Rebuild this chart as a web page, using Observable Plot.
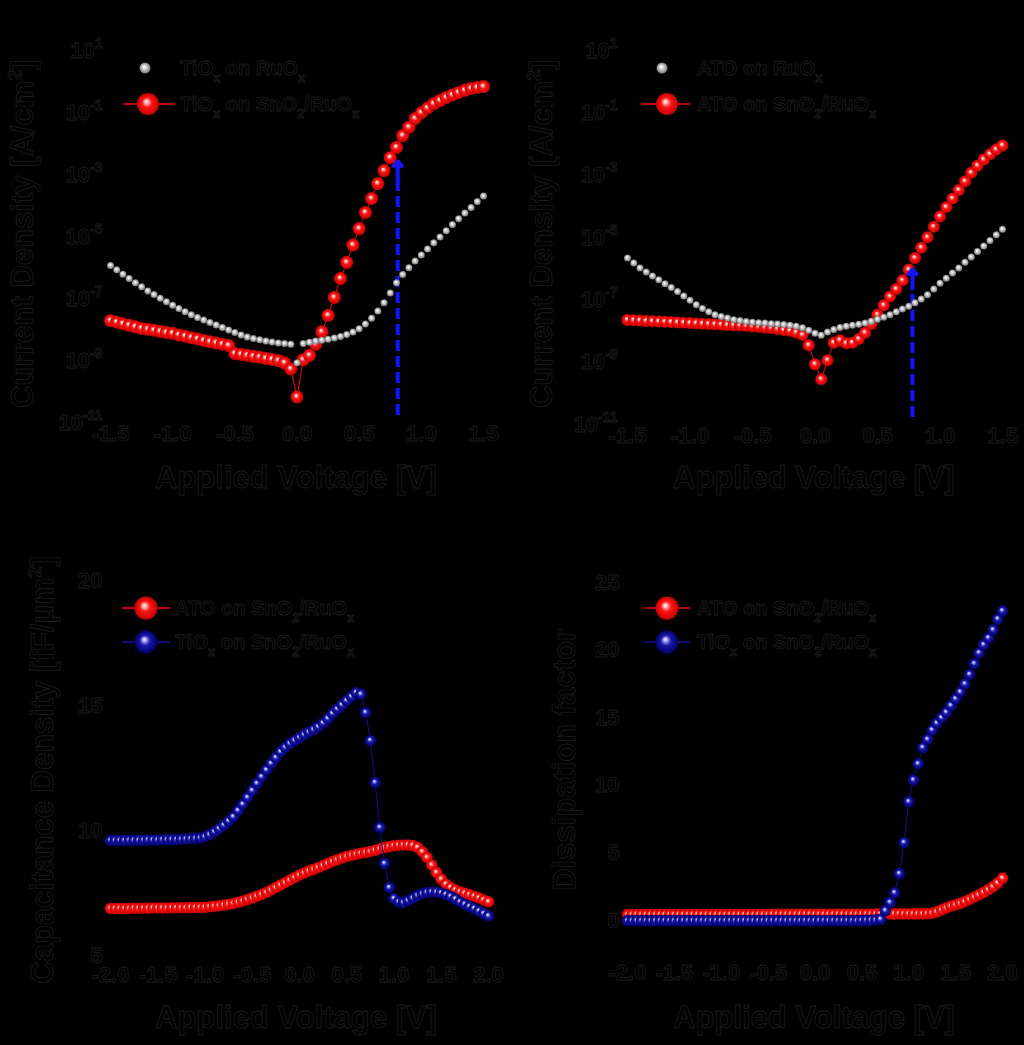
<!DOCTYPE html>
<html>
<head>
<meta charset="utf-8">
<script src="https://cdn.jsdelivr.net/npm/d3@7"></script>
<script src="https://cdn.jsdelivr.net/npm/@observablehq/plot@0.6"></script>
<style>
html, body { margin: 0; padding: 0; background: #000; }
#root { position: relative; width: 1024px; height: 1045px; background: #000; overflow: hidden; }
#root svg text { fill: #000; stroke: #1b1b1b; stroke-width: 0.9px; font-family: "Liberation Sans", Arial, sans-serif; font-weight: bold; }
</style>
</head>
<body>
<div id="root"></div>
<script>
// ---------------- data ----------------
const vTop = [-1.5,-1.45,-1.4,-1.35,-1.3,-1.25,-1.2,-1.15,-1.1,-1.05,-1.0,-0.95,-0.9,-0.85,-0.8,-0.75,-0.7,-0.65,-0.6,-0.55,-0.5,-0.45,-0.4,-0.35,-0.3,-0.25,-0.2,-0.15,-0.1,-0.05,0.0,0.05,0.1,0.15,0.2,0.25,0.3,0.35,0.4,0.45,0.5,0.55,0.6,0.65,0.7,0.75,0.8,0.85,0.9,0.95,1.0,1.05,1.1,1.15,1.2,1.25,1.3,1.35,1.4,1.45,1.5];

// log10 of current density [A/cm^2]
const logJ_TiOx_RuOx = [-6.16,-6.30,-6.44,-6.58,-6.72,-6.85,-6.98,-7.10,-7.22,-7.33,-7.44,-7.55,-7.65,-7.75,-7.84,-7.92,-8.00,-8.08,-8.16,-8.24,-8.32,-8.40,-8.47,-8.52,-8.56,-8.60,-8.63,-8.66,-8.68,-8.70,-9.30,-8.68,-8.64,-8.60,-8.57,-8.54,-8.50,-8.45,-8.39,-8.31,-8.20,-8.05,-7.86,-7.63,-7.36,-7.05,-6.72,-6.45,-6.23,-6.02,-5.82,-5.63,-5.43,-5.24,-5.04,-4.84,-4.65,-4.47,-4.29,-4.10,-3.92];
const logJ_TiOx_SnO2 = [-7.94,-7.99,-8.04,-8.09,-8.14,-8.19,-8.22,-8.25,-8.29,-8.32,-8.35,-8.40,-8.44,-8.49,-8.53,-8.58,-8.62,-8.66,-8.70,-8.74,-9.00,-9.03,-9.06,-9.09,-9.12,-9.16,-9.19,-9.23,-9.30,-9.50,-10.40,-9.20,-9.06,-8.70,-8.30,-7.77,-7.19,-6.58,-6.06,-5.50,-4.97,-4.45,-4.00,-3.52,-3.10,-2.68,-2.35,-1.97,-1.70,-1.42,-1.23,-1.08,-0.94,-0.84,-0.74,-0.66,-0.58,-0.51,-0.45,-0.42,-0.39];
const logJ_ATO_RuOx = [-5.88,-6.04,-6.20,-6.33,-6.46,-6.58,-6.71,-6.83,-6.96,-7.10,-7.24,-7.38,-7.50,-7.61,-7.70,-7.76,-7.81,-7.86,-7.89,-7.92,-7.94,-7.96,-7.97,-7.99,-8.00,-8.02,-8.04,-8.07,-8.12,-8.20,-8.30,-8.36,-8.26,-8.18,-8.11,-8.07,-8.04,-8.01,-7.97,-7.91,-7.85,-7.78,-7.70,-7.61,-7.52,-7.43,-7.32,-7.20,-7.06,-6.88,-6.69,-6.53,-6.36,-6.20,-6.02,-5.85,-5.67,-5.50,-5.32,-5.14,-4.96];
const logJ_ATO_SnO2 = [-7.87,-7.88,-7.89,-7.90,-7.91,-7.92,-7.93,-7.94,-7.95,-7.96,-7.97,-7.98,-7.99,-8.00,-8.01,-8.02,-8.03,-8.04,-8.05,-8.06,-8.08,-8.09,-8.11,-8.13,-8.16,-8.19,-8.22,-8.27,-8.35,-8.68,-9.29,-9.77,-9.16,-8.60,-8.52,-8.62,-8.60,-8.48,-8.28,-8.00,-7.70,-7.40,-7.12,-6.88,-6.60,-6.25,-5.88,-5.55,-5.22,-4.88,-4.55,-4.25,-3.97,-3.70,-3.42,-3.15,-2.92,-2.72,-2.55,-2.40,-2.27];

const vBot = [-2.0,-1.95,-1.9,-1.85,-1.8,-1.75,-1.7,-1.65,-1.6,-1.55,-1.5,-1.45,-1.4,-1.35,-1.3,-1.25,-1.2,-1.15,-1.1,-1.05,-1.0,-0.95,-0.9,-0.85,-0.8,-0.75,-0.7,-0.65,-0.6,-0.55,-0.5,-0.45,-0.4,-0.35,-0.3,-0.25,-0.2,-0.15,-0.1,-0.05,0.0,0.05,0.1,0.15,0.2,0.25,0.3,0.35,0.4,0.45,0.5,0.55,0.6,0.65,0.7,0.75,0.8,0.85,0.9,0.95,1.0,1.05,1.1,1.15,1.2,1.25,1.3,1.35,1.4,1.45,1.5,1.55,1.6,1.65,1.7,1.75,1.8,1.85,1.9,1.95,2.0];

// capacitance density [fF/um^2]
const cap_ATO = [6.88,6.88,6.88,6.88,6.88,6.89,6.89,6.89,6.89,6.90,6.90,6.90,6.90,6.91,6.91,6.91,6.91,6.92,6.92,6.92,6.93,6.95,6.97,6.99,7.02,7.05,7.08,7.13,7.18,7.24,7.30,7.37,7.44,7.52,7.62,7.72,7.82,7.92,8.02,8.12,8.22,8.30,8.38,8.45,8.52,8.60,8.68,8.76,8.83,8.90,8.96,9.01,9.05,9.09,9.12,9.16,9.21,9.27,9.32,9.36,9.39,9.41,9.42,9.42,9.40,9.32,9.15,8.92,8.62,8.32,8.05,7.85,7.72,7.62,7.55,7.49,7.43,7.37,7.30,7.22,7.15];
const cap_TiOx = [9.60,9.60,9.60,9.60,9.61,9.61,9.61,9.61,9.62,9.62,9.62,9.63,9.63,9.64,9.64,9.65,9.66,9.67,9.68,9.70,9.75,9.84,9.95,10.08,10.22,10.38,10.55,10.80,11.05,11.32,11.60,11.88,12.15,12.42,12.68,12.92,13.15,13.33,13.48,13.60,13.72,13.83,13.94,14.04,14.15,14.30,14.48,14.68,14.86,15.03,15.20,15.36,15.52,15.45,14.72,13.60,11.92,10.12,8.68,7.72,7.28,7.14,7.12,7.20,7.30,7.40,7.47,7.52,7.54,7.53,7.50,7.44,7.36,7.26,7.14,7.05,6.96,6.88,6.78,6.68,6.58];

// dissipation factor
const df_ATO = [0.45,0.45,0.45,0.45,0.45,0.45,0.45,0.45,0.45,0.45,0.45,0.45,0.45,0.45,0.45,0.45,0.45,0.45,0.45,0.45,0.45,0.45,0.45,0.45,0.45,0.45,0.45,0.45,0.45,0.45,0.45,0.48,0.48,0.48,0.48,0.48,0.48,0.48,0.48,0.48,0.48,0.48,0.48,0.48,0.48,0.48,0.48,0.48,0.48,0.48,0.48,0.48,0.48,0.50,0.50,0.50,0.50,0.50,0.50,0.50,0.50,0.50,0.50,0.50,0.52,0.56,0.65,0.80,0.95,1.08,1.18,1.28,1.42,1.58,1.75,1.92,2.10,2.30,2.52,2.80,3.15];
const df_TiOx = [0,0,0,0,0,0,0,0,0,0,0,0,0,0,0,0,0,0,0,0,0,0,0,0,0,0,0,0,0,0,0,0,0,0,0,0,0,0,0,0,0,0,0,0,0,0,0,0,0,0,0.01,0.02,0.03,0.05,0.10,0.75,1.35,2.07,3.48,5.78,8.80,10.40,11.60,12.80,13.40,14.10,14.60,15.00,15.40,15.90,16.40,16.90,17.50,18.20,19.00,19.80,20.40,20.90,21.50,22.30,22.90];

// arrows: voltage, log10 of tip
const arrowV_TiOx = [0.81];
const arrowTipLog_TiOx = [-2.8];
const arrowV_ATO = [0.78];
const arrowTipLog_ATO = [-6.25];

// ticks
const xTicksTop = [-1.5, -1.0, -0.5, 0.0, 0.5, 1.0, 1.5];
const xTicksBot = [-2.0, -1.5, -1.0, -0.5, 0.0, 0.5, 1.0, 1.5, 2.0];
const yTicksLog = [1e1, 1e-1, 1e-3, 1e-5, 1e-7, 1e-9, 1e-11];
const yTicksCap = [5, 10, 15, 20];
const yTicksDF = [0, 5, 10, 15, 20, 25];

// texts
const xLabel = "Applied Voltage [V]";
const yLabelJ = ["Current Density [A/cm", "^2", "]"];
const yLabelC = ["Capacitance Density [fF/μm", "^2", "]"];
const yLabelD = ["Dissipation factor"];
const legTL = [["TiO", "_x", " on RuO", "_x"], ["TiO", "_x", " on SnO", "_2", "/RuO", "_x"]];
const legTR = [["ATO on RuO", "_x"], ["ATO on SnO", "_2", "/RuO", "_x"]];
const legBot = [["ATO on SnO", "_2", "/RuO", "_x"], ["TiO", "_x", " on SnO", "_2", "/RuO", "_x"]];

// ---------------- tables ----------------
const toLog = (v, l) => v.map((x, i) => ({v: x, y: Math.pow(10, l[i])}));
const toLin = (v, l) => v.map((x, i) => ({v: x, y: l[i]}));
const tTiRu = toLog(vTop, logJ_TiOx_RuOx);
const tTiSn = toLog(vTop, logJ_TiOx_SnO2);
const tAtoRu = toLog(vTop, logJ_ATO_RuOx);
const tAtoSn = toLog(vTop, logJ_ATO_SnO2);
const tCapAto = toLin(vBot, cap_ATO);
const tCapTi = toLin(vBot, cap_TiOx);
const tDfAto = toLin(vBot, df_ATO);
const tDfTi = toLin(vBot, df_TiOx);
const arrowTbl = (v, tip) => v.map((x, i) => ({v: x, y1: 1e-11, y2: Math.pow(10, tip[i]), yh: Math.pow(10, tip[i] - 0.6)}));
const arrTi = arrowTbl(arrowV_TiOx, arrowTipLog_TiOx);
const arrAto = arrowTbl(arrowV_ATO, arrowTipLog_ATO);

// ---------------- gradients ----------------
const root = document.getElementById("root");
const defsSvg = d3.select(root).append("svg").attr("width", 0).attr("height", 0)
  .style("position", "absolute").style("left", "0").style("top", "0");
const defs = defsSvg.append("defs");
function grad(id, stops) {
  const g = defs.append("radialGradient").attr("id", id)
    .attr("cx", "0.5").attr("cy", "0.5").attr("r", "0.5").attr("fx", "0.42").attr("fy", "0.38");
  stops.forEach(([o, c]) => g.append("stop").attr("offset", o).attr("stop-color", c));
}
grad("ballRed", [[0, "#ffffff"], [0.16, "#ffb8b8"], [0.45, "#ff1414"], [1, "#c40000"]]);
grad("ballBlue", [[0, "#ffffff"], [0.16, "#a8a8ff"], [0.45, "#1818a6"], [1, "#00006a"]]);
grad("ballGray", [[0, "#ffffff"], [0.3, "#e2e2e2"], [1, "#777777"]]);

const RED = "#ff0000", BLUE = "#10109a", ARROW = "#1414ff";

// ---------------- helpers ----------------
// base: vertical offset of the baseline (px) applied through the first tspan's dy
function rich(textSel, parts, size, subSize, subShift, supShift, base) {
  let cur = -(base || 0);
  parts.forEach(p => {
    let s = p, target = 0, small = false;
    if (p.startsWith("_")) { s = p.slice(1); target = subShift; small = true; }
    else if (p.startsWith("^")) { s = p.slice(1); target = supShift; small = true; }
    const ts = textSel.append("tspan").text(s).attr("dy", target - cur);
    ts.style("font-size", (small ? subSize : size) + "px");
    cur = target;
  });
}

function panel(cfg) {
  const svg = Plot.plot({
    width: 512, height: cfg.height,
    marginLeft: cfg.ml, marginRight: cfg.mr, marginTop: cfg.mt, marginBottom: cfg.mb,
    style: {background: "transparent", fontFamily: "'Liberation Sans', Arial, sans-serif",
            fontSize: "22px", fontWeight: "bold", color: "#000", overflow: "visible"},
    x: {domain: cfg.xDomain},
    y: cfg.y,
    marks: [
      Plot.axisX({ticks: cfg.xTicks, tickFormat: d => d.toFixed(1), tickSize: 0, tickPadding: cfg.xPad, label: null}),
      Plot.axisY({ticks: cfg.yTicks, tickFormat: cfg.yFormat, tickSize: 0, tickPadding: cfg.yPad, label: null}),
      ...cfg.marks
    ]
  });
  svg.style.position = "absolute";
  svg.style.left = cfg.left + "px";
  svg.style.top = cfg.top + "px";
  root.appendChild(svg);
  const sel = d3.select(svg);
  if (cfg.logTicks) {
    sel.selectAll('g[aria-label="y-axis tick label"] text').each(function() {
      const t = d3.select(this);
      const s = t.text();
      const e = s.split("^")[1];
      t.text("");
      rich(t, ["10", "^" + e], 22, 14, 0, -10, 7);
    });
  }
  // x label
  sel.append("text").attr("x", cfg.xlx).attr("y", cfg.xly + 11)
    .attr("text-anchor", "middle").style("font-size", "31px").text(xLabel);
  // y label (baseline at x = ylx)
  const yl = sel.append("text").attr("transform", `translate(${cfg.ylx},${cfg.yly}) rotate(-90)`)
    .attr("text-anchor", "middle");
  rich(yl, cfg.yLabel, 31, 19, 0, -12, 0);
  // legend
  cfg.legend.forEach(it => {
    if (it.line) sel.append("line").attr("x1", it.lx1).attr("x2", it.lx2).attr("y1", it.y).attr("y2", it.y)
      .attr("stroke", it.color).attr("stroke-width", 1.5);
    sel.append("circle").attr("cx", it.mx).attr("cy", it.y).attr("r", it.r).attr("fill", `url(#${it.grad})`);
    const t = sel.append("text").attr("x", it.tx).attr("y", it.y).attr("text-anchor", "start");
    rich(t, it.parts, 20, 13, 7, 0, 7);
  });
  return sel;
}

const logFmt = d => "10^" + Math.round(Math.log10(d));

// ---------------- top-left ----------------
panel({
  left: 0, top: 0, height: 520, ml: 110, mr: 29, mt: 43, mb: 105,
  xDomain: [-1.5, 1.5], y: {type: "log", domain: [1e-11, 1e1]},
  xTicks: xTicksTop, yTicks: yTicksLog, yFormat: logFmt, xPad: 10, yPad: 8, logTicks: true,
  xlx: 296, xly: 477, ylx: 33, yly: 234, yLabel: yLabelJ,
  legend: [
    {mx: 145, y: 68, r: 5.5, grad: "ballGray", tx: 180, parts: legTL[0]},
    {mx: 148, y: 104, r: 11, grad: "ballRed", line: true, lx1: 123, lx2: 174, color: RED, tx: 180, parts: legTL[1]}
  ],
  marks: [
    Plot.line(tTiSn, {x: "v", y: "y", stroke: RED, strokeWidth: 1}),
    Plot.dot(tTiSn, {x: "v", y: "y", r: 6.5, fill: "url(#ballRed)"}),
    Plot.ruleX(arrTi, {x: "v", y1: "y1", y2: "yh", stroke: ARROW, strokeWidth: 4, strokeDasharray: "11,5"}),
    Plot.arrow(arrTi, {x1: "v", x2: "v", y1: "yh", y2: "y2", stroke: ARROW, strokeWidth: 4, headLength: 18, headAngle: 80}),
    Plot.dot(tTiRu, {x: "v", y: "y", r: 3.5, fill: "url(#ballGray)"})
  ]
});

// ---------------- top-right ----------------
panel({
  left: 512, top: 0, height: 520, ml: 115, mr: 22, mt: 43, mb: 103,
  xDomain: [-1.5, 1.5], y: {type: "log", domain: [1e-11, 1e1]},
  xTicks: xTicksTop, yTicks: yTicksLog, yFormat: logFmt, xPad: 10, yPad: 10, logTicks: true,
  xlx: 302, xly: 477, ylx: 40, yly: 234, yLabel: yLabelJ,
  legend: [
    {mx: 150, y: 68, r: 5.5, grad: "ballGray", tx: 185, parts: legTR[0]},
    {mx: 155, y: 104, r: 11, grad: "ballRed", line: true, lx1: 130, lx2: 178, color: RED, tx: 185, parts: legTR[1]}
  ],
  marks: [
    Plot.line(tAtoSn, {x: "v", y: "y", stroke: RED, strokeWidth: 1}),
    Plot.dot(tAtoSn, {x: "v", y: "y", r: 6, fill: "url(#ballRed)"}),
    Plot.ruleX(arrAto, {x: "v", y1: "y1", y2: "yh", stroke: ARROW, strokeWidth: 4, strokeDasharray: "11,5"}),
    Plot.arrow(arrAto, {x1: "v", x2: "v", y1: "yh", y2: "y2", stroke: ARROW, strokeWidth: 4, headLength: 18, headAngle: 80}),
    Plot.dot(tAtoRu, {x: "v", y: "y", r: 3.5, fill: "url(#ballGray)"})
  ]
});

// ---------------- bottom-left ----------------
panel({
  left: 0, top: 520, height: 525, ml: 110, mr: 24, mt: 60, mb: 90,
  xDomain: [-2, 2], y: {domain: [5, 20]},
  xTicks: xTicksBot, yTicks: yTicksCap, yFormat: d => String(d), xPad: 11, yPad: 8, logTicks: false,
  xlx: 296, xly: 497, ylx: 53, yly: 250, yLabel: yLabelC,
  legend: [
    {mx: 146, y: 88, r: 11.5, grad: "ballRed", line: true, lx1: 122, lx2: 170, color: RED, tx: 175, parts: legBot[0]},
    {mx: 146, y: 122, r: 11.5, grad: "ballBlue", line: true, lx1: 122, lx2: 170, color: BLUE, tx: 175, parts: legBot[1]}
  ],
  marks: [
    Plot.line(tCapAto, {x: "v", y: "y", stroke: RED, strokeWidth: 1}),
    Plot.dot(tCapAto, {x: "v", y: "y", r: 5.8, fill: "url(#ballRed)"}),
    Plot.line(tCapTi, {x: "v", y: "y", stroke: BLUE, strokeWidth: 1}),
    Plot.dot(tCapTi, {x: "v", y: "y", r: 5.8, fill: "url(#ballBlue)"})
  ]
});

// ---------------- bottom-right ----------------
panel({
  left: 512, top: 520, height: 525, ml: 115, mr: 22, mt: 62, mb: 91,
  xDomain: [-2, 2], y: {domain: [-2.5, 25]},
  xTicks: xTicksBot, yTicks: yTicksDF, yFormat: d => String(d), xPad: 10, yPad: 8, logTicks: false,
  xlx: 302, xly: 497, ylx: 63, yly: 240, yLabel: yLabelD,
  legend: [
    {mx: 155, y: 88, r: 11.5, grad: "ballRed", line: true, lx1: 132, lx2: 178, color: RED, tx: 185, parts: legBot[0]},
    {mx: 155, y: 122, r: 11.5, grad: "ballBlue", line: true, lx1: 132, lx2: 178, color: BLUE, tx: 185, parts: legBot[1]}
  ],
  marks: [
    Plot.line(tDfAto, {x: "v", y: "y", stroke: RED, strokeWidth: 1}),
    Plot.dot(tDfAto, {x: "v", y: "y", r: 5.8, fill: "url(#ballRed)"}),
    Plot.line(tDfTi, {x: "v", y: "y", stroke: BLUE, strokeWidth: 1}),
    Plot.dot(tDfTi, {x: "v", y: "y", r: 5.8, fill: "url(#ballBlue)"})
  ]
});
</script>
</body>
</html>
